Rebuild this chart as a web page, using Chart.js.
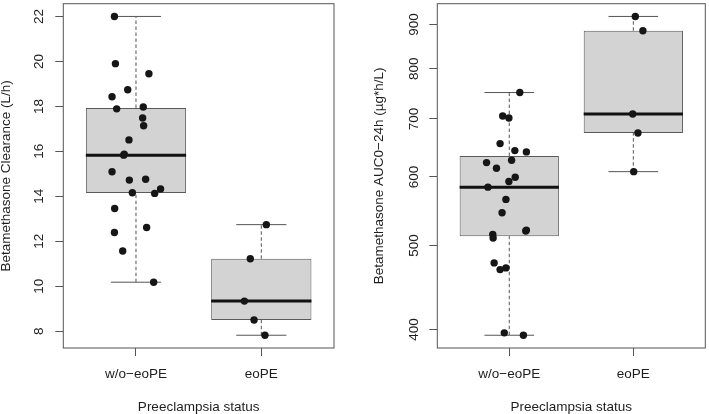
<!DOCTYPE html>
<html>
<head>
<meta charset="utf-8">
<script src="https://cdn.jsdelivr.net/npm/chart.js@4.4.0/dist/chart.umd.min.js"></script>
<style>
  body { margin: 0; background: #fff; }
  #wrap { position: relative; width: 709px; height: 414px; }
  .pane { position: absolute; top: 0; height: 414px; }
</style>
</head>
<body>
<div id="wrap">
  <div class="pane" style="left:0;width:354px"><canvas id="clearance"></canvas></div>
  <div class="pane" style="left:354px;width:355px"><canvas id="auc"></canvas></div>
</div>
<script>
const groups = ['w/o\u2212eoPE', 'eoPE'];

// clearance (L/h), one value per subject, jitter = horizontal offset of the dot
const clearanceNoPE = [22.0, 19.9, 19.45, 18.74, 18.43, 17.89, 17.97, 17.48, 17.14, 16.51, 15.83, 15.87,
  15.09, 14.72, 14.76, 14.16, 14.13, 14.33, 13.46, 12.61, 12.39, 11.57, 10.18];
const clearanceNoPEJitter = [-0.172, -0.164, 0.103, -0.066, -0.191, -0.154, 0.058, 0.053, 0.061, -0.056, -0.098, -0.094,
  -0.191, -0.053, 0.077, -0.029, 0.149, 0.196, -0.170, 0.085, -0.172, -0.106, 0.141];
const clearanceEoPE = [12.74, 11.22, 9.34, 8.50, 7.82];
const clearanceEoPEJitter = [0.040, -0.088, -0.135, -0.058, 0.029];

// AUC0-24h (ug*h/L)
const aucNoPE = [751, 705.6, 701.9, 655.7, 643.6, 641.4, 623.4, 627.3, 614.2, 599.7, 592.9, 584.0,
  565.3, 545.6, 519.8, 521, 515.2, 510.3, 477.5, 469.1, 471.2, 396.5, 394.0];
const aucNoPEJitter = [0.085, -0.053, -0.003, -0.074, 0.045, 0.138, -0.183, 0.019, -0.103, 0.048, -0.003, -0.172,
  -0.027, -0.058, 0.133, 0.138, -0.133, -0.130, -0.122, -0.074, -0.027, -0.040, 0.114];
const aucEoPE = [919.3, 885, 709.4, 674.5, 608.6];
const aucEoPEJitter = [0.016, 0.077, -0.005, 0.037, 0.003];

const clearanceTicks = [8, 10, 12, 14, 16, 18, 20, 22];
const aucTicks = [400, 500, 600, 700, 800, 900];

const font = { family: 'Liberation Sans', size: 13.5, lineHeight: 1 };
const ink = '#1e1e1e';
const gray = '#555';

// same hinges as R's fivenum / boxplot.stats
function fivenum(values) {
  const x = values.slice().sort((a, b) => a - b);
  const n = x.length;
  const n4 = Math.floor((n + 3) / 2) / 2;
  const d = [1, n4, (n + 1) / 2, n + 1 - n4, n];
  return d.map(p => 0.5 * (x[Math.floor(p) - 1] + x[Math.ceil(p) - 1]));
}

function boxStats(values) {
  const [, q1, med, q3] = fivenum(values);
  const reach = 1.5 * (q3 - q1);
  const inside = values.filter(v => v >= q1 - reach && v <= q3 + reach);
  return { lo: Math.min(...inside), q1, med, q3, hi: Math.max(...inside) };
}

function paddedRange(values, log) {
  const t = log ? values.map(Math.log) : values;
  const lo = Math.min(...t), hi = Math.max(...t), ext = 0.04 * (hi - lo);
  return log ? [Math.exp(lo - ext), Math.exp(hi + ext)] : [lo - ext, hi + ext];
}

function buildDatasets(groupValues, groupJitter) {
  const stats = groupValues.map(boxStats);
  const sets = [{
    type: 'bar',
    data: stats.map((s, i) => ({ x: i + 1, y: [s.q1, s.q3] })),
    backgroundColor: '#d3d3d3',
    borderColor: '#5a5a5a',
    borderWidth: 1,
    borderSkipped: false,
    barPercentage: 0.8,
    categoryPercentage: 1,
    order: 4
  }];
  const seg = (pts, extra) => Object.assign({
    type: 'scatter', showLine: true, data: pts, pointRadius: 0, pointHoverRadius: 0,
    borderColor: gray, borderWidth: 1, fill: false, order: 3
  }, extra);
  stats.forEach((s, i) => {
    const x = i + 1;
    sets.push(seg([{ x, y: s.lo }, { x, y: s.q1 }], { borderDash: [3.5, 2.5] }));
    sets.push(seg([{ x, y: s.q3 }, { x, y: s.hi }], { borderDash: [3.5, 2.5] }));
    sets.push(seg([{ x: x - 0.2, y: s.lo }, { x: x + 0.2, y: s.lo }]));
    sets.push(seg([{ x: x - 0.2, y: s.hi }, { x: x + 0.2, y: s.hi }]));
    sets.push(seg([{ x: x - 0.4, y: s.med }, { x: x + 0.4, y: s.med }], { borderColor: '#111', borderWidth: 3, order: 2 }));
  });
  groupValues.forEach((vals, i) => {
    sets.push({
      type: 'scatter',
      data: vals.map((v, k) => ({ x: i + 1 + groupJitter[i][k], y: v })),
      pointRadius: 3.7, pointHoverRadius: 3.7,
      backgroundColor: '#161616', borderWidth: 0,
      order: 1
    });
  });
  return sets;
}

const frame = {
  id: 'frame',
  afterDatasetsDraw(chart) {
    const { ctx, chartArea: a } = chart;
    ctx.save();
    ctx.strokeStyle = gray;
    ctx.lineWidth = 1;
    ctx.strokeRect(a.left, a.top, a.right - a.left, a.bottom - a.top);
    ctx.restore();
  }
};

// fixed axis band sizes, no extra label padding
function fixBand(s, size) {
  if (s.isHorizontal()) s.height = size; else s.width = size;
  s.paddingTop = s.paddingBottom = s.paddingLeft = s.paddingRight = 0;
}

function makeChart(id, cfg) {
  const [ymin, ymax] = paddedRange(cfg.values.flat(), cfg.log);
  return new Chart(document.getElementById(id), {
    type: 'scatter',
    data: { datasets: buildDatasets(cfg.values, cfg.jitter) },
    plugins: [frame],
    options: {
      responsive: true,
      maintainAspectRatio: false,
      animation: false,
      layout: { padding: cfg.padding },
      plugins: { legend: { display: false }, tooltip: { enabled: false } },
      scales: {
        x: {
          type: 'linear',
          offset: false,
          min: 0.5 - 0.04 * groups.length,
          max: groups.length + 0.5 + 0.04 * groups.length,
          afterBuildTicks: s => { s.ticks = groups.map((g, i) => ({ value: i + 1 })); },
          afterFit: s => fixBand(s, 66),
          ticks: { callback: v => groups[v - 1], font, color: ink, padding: 11.5, autoSkip: false, maxRotation: 0 },
          grid: { offset: false, drawOnChartArea: false, tickLength: 8, color: gray },
          border: { display: false },
          title: { display: true, text: 'Preeclampsia status', font, color: ink, padding: 0 }
        },
        y: {
          type: cfg.log ? 'logarithmic' : 'linear',
          beginAtZero: false,
          min: ymin,
          max: ymax,
          afterBuildTicks: s => { s.ticks = cfg.ticks.map(v => ({ value: v })); },
          afterFit: s => fixBand(s, cfg.axisWidth),
          ticks: { callback: v => String(v), font, color: ink, minRotation: 90, maxRotation: 90,
                   crossAlign: 'center', padding: cfg.tickPad, autoSkip: false },
          grid: { drawOnChartArea: false, tickLength: 8, color: gray },
          border: { display: false },
          title: { display: true, text: cfg.title, font, color: ink, padding: { top: cfg.titlePad, bottom: 0 } }
        }
      }
    }
  });
}

makeChart('clearance', {
  values: [clearanceNoPE, clearanceEoPE],
  jitter: [clearanceNoPEJitter, clearanceEoPEJitter],
  log: false,
  ticks: clearanceTicks,
  title: 'Betamethasone Clearance (L/h)',
  axisWidth: 63.3, tickPad: 8.6, titlePad: 0,
  padding: { top: 2.3, right: 20, bottom: 0, left: 0 }
});

makeChart('auc', {
  values: [aucNoPE, aucEoPE],
  jitter: [aucNoPEJitter, aucEoPEJitter],
  log: true,
  ticks: aucTicks,
  title: 'Betamethasone AUC0\u221224h (\u00b5g*h/L)',
  axisWidth: 83.3, tickPad: 3.7, titlePad: 18.3,
  padding: { top: 2.3, right: 1.3, bottom: 0, left: 0 }
});
</script>
</body>
</html>
